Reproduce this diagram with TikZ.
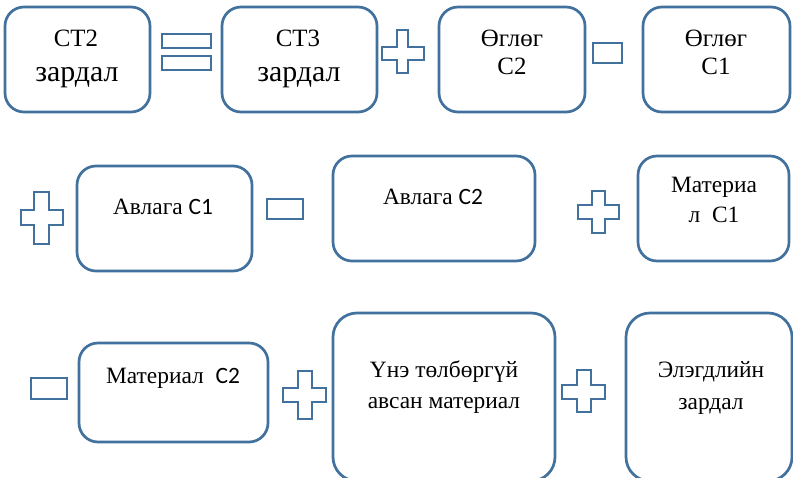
\documentclass[tikz,border=0pt]{standalone}
\usepackage{fontspec}
\setmainfont{Liberation Serif}
\newfontfamily\calib{Carlito}
\definecolor{outl}{RGB}{65,113,156}
\newcommand{\plussign}[8]{\draw[opshape] (#5,#3) -- (#6,#3) -- (#6,#7) -- (#2,#7) -- (#2,#8) -- (#6,#8) -- (#6,#4) -- (#5,#4) -- (#5,#8) -- (#1,#8) -- (#1,#7) -- (#5,#7) -- cycle;}
\begin{document}
\begin{tikzpicture}[x=1bp,y=-1bp,
  box/.style={draw=outl, line width=2.7bp, rounded corners=19bp, fill=white, inner sep=0pt, outer sep=0pt},
  opshape/.style={draw=outl, line width=2.9bp, line join=miter, fill=white},
  txt/.style={anchor=base, inner sep=0pt, font=\fontsize{23.5}{27}\selectfont},
  big/.style={anchor=base, inner sep=0pt, font=\fontsize{25}{29}\selectfont},
  huge/.style={anchor=base, inner sep=0pt, font=\fontsize{30}{34}\selectfont}]
\useasboundingbox (0,0) rectangle (793,478);
\clip (0,0) rectangle (793,478);
\fill[white] (0,0) rectangle (793,478);
% row 1 boxes
\node[box, minimum width=145bp, minimum height=105bp] (b1) at (77.5,59.5) {};
\node[box, minimum width=155bp, minimum height=105bp] (b2) at (299.5,59.5) {};
\node[box, minimum width=146bp, minimum height=105bp] (b3) at (512,59.5) {};
\node[box, minimum width=147bp, minimum height=105bp] (b4) at (716.5,59.5) {};
% row 2 boxes
\node[box, minimum width=175bp, minimum height=105bp] (b5) at (164.5,218.5) {};
\node[box, minimum width=202bp, minimum height=105bp] (b6) at (434,208.5) {};
\node[box, minimum width=151bp, minimum height=105bp] (b7) at (713.5,208.5) {};
% row 3 boxes
\node[box, minimum width=189bp, minimum height=99bp] (b8) at (173.5,392.5) {};
\node[box, rounded corners=24bp, minimum width=222bp, minimum height=168bp] (b9) at (444,397) {};
\node[box, rounded corners=24bp, minimum width=166bp, minimum height=168bp] (b10) at (709,397) {};
% texts row 1
\node[big] (t1a) at (76,47) {СТ2};
\node[huge] (t1b) at (77,82) {зардал};
\node[big] (t2a) at (298,47) {СТ3};
\node[huge] (t2b) at (299,82) {зардал};
\node[big] (t3a) at (512,47) {Өглөг};
\node[big] (t3b) at (512,75) {С2};
\node[big] (t4a) at (716,47) {Өглөг};
\node[big] (t4b) at (716,75) {С1};
% texts row 2
\node[txt] (t5) at (163,215) {Авлага {\calib C1}};
\node[txt] (t6) at (433,205) {Авлага {\calib C2}};
\node[txt] (t7a) at (714,193) {Материа};
\node[txt] (t7b) at (714,223) {л\ \ C1};
% texts row 3
\node[txt] (t8) at (173,383) {Материал\ \ {\calib C2}};
\node[txt] (t9a) at (444,377) {Үнэ төлбөргүй};
\node[txt] (t9b) at (444,408) {авсан материал};
\node[txt] (t10a) at (711,377) {Элэгдлийн};
\node[txt] (t10b) at (711,409) {зардал};
% operators
\draw[opshape] (162,34) rectangle (211,48);
\draw[opshape] (162,56) rectangle (211,70);
\plussign{382}{424}{30}{73}{397}{408}{47}{60}
\draw[opshape] (593,43) rectangle (622,63);
\plussign{21}{63}{192}{244}{34}{49}{210}{225}
\draw[opshape] (267,199) rectangle (303,219);
\plussign{578}{619}{191}{233}{592}{605}{205}{219}
\draw[opshape] (31,378) rectangle (67,399);
\plussign{283}{326}{371}{419}{298}{312}{388}{402}
\plussign{562}{605}{370}{412}{577}{591}{385}{399}
\end{tikzpicture}
\end{document}
